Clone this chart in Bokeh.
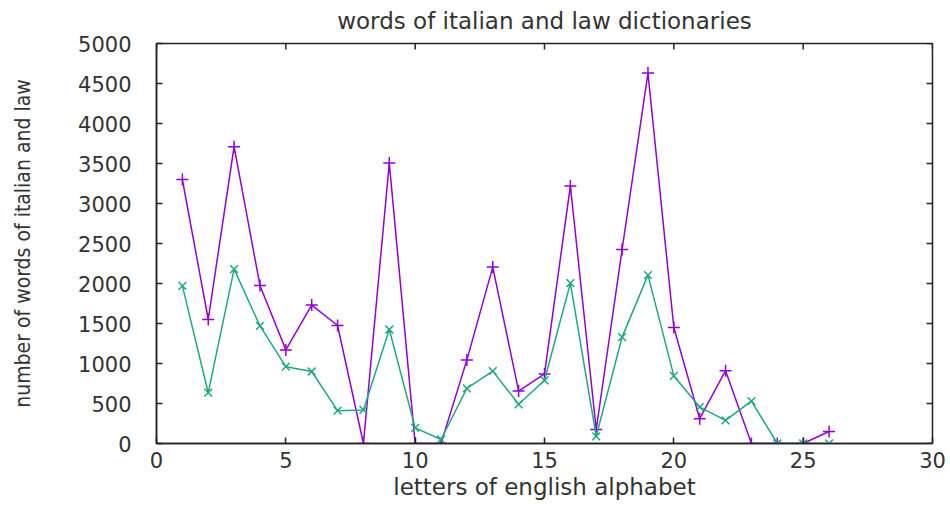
from math import pi

from bokeh.plotting import figure
from bokeh.models import Range1d, FixedTicker
from bokeh.embed import file_html
from bokeh.resources import INLINE

# Word counts per initial letter (1 = a ... 26 = z)
letters = list(range(1, 27))
italian_words = [3300, 1550, 3710, 1975, 1170, 1730, 1475, 0, 3505, 0,
                 0, 1045, 2205, 655, 870, 3220, 175, 2425, 4630, 1450,
                 310, 910, 0, 0, 0, 150]
law_words = [1970, 635, 2180, 1470, 960, 900, 410, 420, 1425, 195,
             50, 690, 905, 490, 790, 2005, 90, 1330, 2105, 845,
             455, 290, 530, 0, 0, 0]

x_ticks = [0, 5, 10, 15, 20, 25, 30]
y_ticks = [0, 500, 1000, 1500, 2000, 2500, 3000, 3500, 4000, 4500, 5000]

PURPLE = "#9400d3"
GREEN = "#1fa882"
BORDER = "#222222"
TEXT = "#333333"
FONT = "DejaVu Sans"
NARROW = "DejaVu Sans Condensed"

x_min, x_max = x_ticks[0], x_ticks[-1]
y_min, y_max = y_ticks[0], y_ticks[-1]

p = figure(width=950, height=508, output_backend="svg", toolbar_location=None,
           x_range=Range1d(x_min, x_max), y_range=Range1d(y_min, y_max),
           min_border_left=156, min_border_right=18,
           min_border_top=43, min_border_bottom=65,
           title="words of italian and law dictionaries")

p.title.align = "center"
p.title.vertical_align = "top"
p.title.text_font = FONT
p.title.text_font_style = "normal"
p.title.text_font_size = "23px"
p.title.text_color = TEXT
p.title.standoff = 15

p.grid.visible = False
p.outline_line_color = BORDER
p.outline_line_width = 1.5
p.background_fill_color = "white"
p.border_fill_color = "white"


def style_axis(ax, ticks):
    ax.ticker = FixedTicker(ticks=ticks)
    ax.major_tick_in = 6
    ax.major_tick_out = 0
    ax.minor_tick_in = 0
    ax.minor_tick_out = 0
    ax.axis_line_color = BORDER
    ax.axis_line_width = 1.5
    ax.major_tick_line_color = BORDER
    ax.major_tick_line_width = 1.5
    ax.major_label_text_font = FONT
    ax.major_label_text_font_size = "21px"
    ax.major_label_text_color = TEXT


style_axis(p.xaxis[0], x_ticks)
style_axis(p.yaxis[0], y_ticks)
p.xaxis.major_label_standoff = 8
p.yaxis.major_label_standoff = 25

p.xaxis.axis_label = "letters of english alphabet"
p.xaxis.axis_label_text_font = FONT
p.xaxis.axis_label_text_font_style = "normal"
p.xaxis.axis_label_text_font_size = "23px"
p.xaxis.axis_label_text_color = TEXT
p.xaxis.axis_label_standoff = 3

p.yaxis.axis_label = "number of words of italian and law"
p.yaxis.axis_label_text_font = NARROW
p.yaxis.axis_label_text_font_style = "normal"
p.yaxis.axis_label_text_font_size = "21px"
p.yaxis.axis_label_text_color = TEXT
p.yaxis.axis_label_standoff = 40

# mirrored inward tick marks along the top and right borders
# (dash markers centred on the border; the frame clips the outer half)
p.scatter(x_ticks, [y_max] * len(x_ticks), marker="dash", size=12,
          angle=pi / 2, line_color=BORDER, line_width=1.5)
p.scatter([x_max] * len(y_ticks), y_ticks, marker="dash", size=12,
          line_color=BORDER, line_width=1.5)

p.line(letters, italian_words, line_color=PURPLE, line_width=1.5)
p.scatter(letters, italian_words, marker="cross", size=12,
          line_color=PURPLE, line_width=1.5)

p.line(letters, law_words, line_color=GREEN, line_width=1.5)
p.scatter(letters, law_words, marker="x", size=11,
          line_color=GREEN, line_width=1.5)

open("out.html", "w").write(file_html(p, INLINE))
